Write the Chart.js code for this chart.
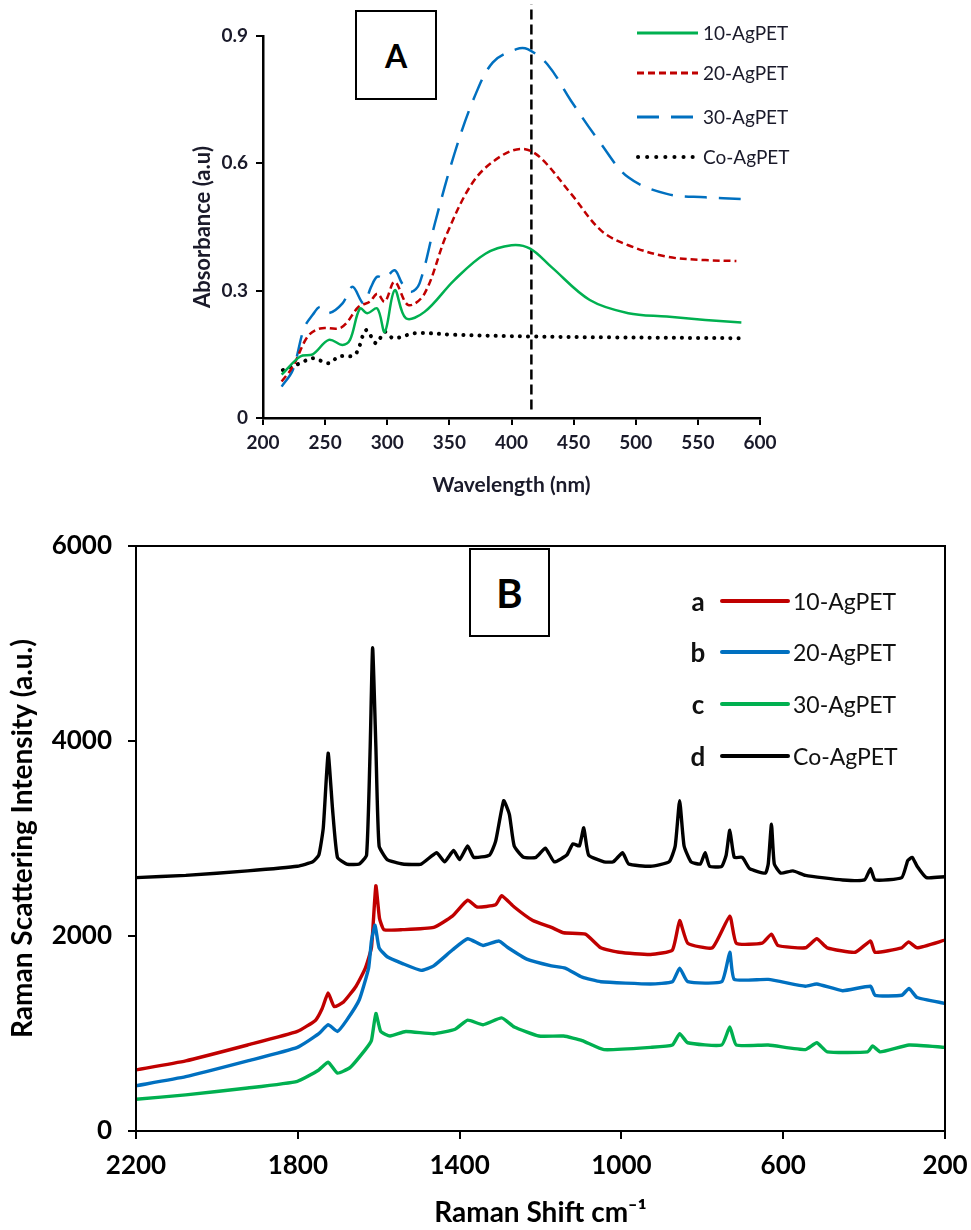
<!DOCTYPE html>
<html>
<head>
<meta charset="utf-8">
<script src="https://cdn.jsdelivr.net/npm/chart.js@4"></script>
<style>
  body { margin: 0; background: #fff; font-family: Lato, "Open Sans", sans-serif; }
  #wrap { position: relative; width: 971px; height: 1230px; }
  canvas { position: absolute; left: 0; }
  #chartA { top: 0; }
  #chartB { top: 510px; }
  .tag { position: absolute; border: 2px solid #000; background: #fff; box-sizing: border-box;
         display: flex; align-items: center; justify-content: center; font-weight: 700; }
  .leg { position: absolute; display: flex; align-items: center; white-space: nowrap; }
  .leg svg { display: block; }
  .legA { left: 634px; font-size: 19px; color: #1a1a2a; }
  .legA span { margin-left: 3px; }
  .legB { left: 684px; font-size: 23px; color: #111; }
  .legB b { width: 28px; text-align: center; font-size: 26px; margin-right: 8px; }
  .legB span { margin-left: 3px; }
</style>
</head>
<body>
<div id="wrap">
  <canvas id="chartA" width="971" height="500"></canvas>
  <canvas id="chartB" width="971" height="720"></canvas>

  <div class="tag" style="left:355px;top:10px;width:82px;height:90px;font-size:32px;">A</div>
  <div class="tag" style="left:469px;top:548px;width:81px;height:89px;font-size:40px;">B</div>

  <div class="leg legA" style="top:21px;"><svg width="66" height="8"><line x1="3" y1="4" x2="64" y2="4" stroke="#00b050" stroke-width="3"/></svg><span>10-AgPET</span></div>
  <div class="leg legA" style="top:61px;"><svg width="66" height="8"><line x1="3" y1="4" x2="64" y2="4" stroke="#c00000" stroke-width="3" stroke-dasharray="7 4"/></svg><span>20-AgPET</span></div>
  <div class="leg legA" style="top:105px;"><svg width="66" height="8"><line x1="3" y1="4" x2="64" y2="4" stroke="#0070c0" stroke-width="3" stroke-dasharray="22 12"/></svg><span>30-AgPET</span></div>
  <div class="leg legA" style="top:145px;"><svg width="66" height="8"><line x1="4" y1="4" x2="64" y2="4" stroke="#000" stroke-width="4" stroke-linecap="round" stroke-dasharray="0.1 9"/></svg><span>Co-AgPET</span></div>

  <div class="leg legB" style="top:585px;"><b>a</b><svg width="70" height="8"><line x1="2" y1="4" x2="68" y2="4" stroke="#c00000" stroke-width="4" stroke-linecap="round"/></svg><span>10-AgPET</span></div>
  <div class="leg legB" style="top:636px;"><b>b</b><svg width="70" height="8"><line x1="2" y1="4" x2="68" y2="4" stroke="#0070c0" stroke-width="4" stroke-linecap="round"/></svg><span>20-AgPET</span></div>
  <div class="leg legB" style="top:688px;"><b>c</b><svg width="70" height="8"><line x1="2" y1="4" x2="68" y2="4" stroke="#00b050" stroke-width="4" stroke-linecap="round"/></svg><span>30-AgPET</span></div>
  <div class="leg legB" style="top:740px;"><b>d</b><svg width="70" height="8"><line x1="2" y1="4" x2="68" y2="4" stroke="#000" stroke-width="4" stroke-linecap="round"/></svg><span>Co-AgPET</span></div>
</div>

<script>
// ---- A: UV-vis absorbance ----
const wl10 = [215, 230, 240, 253, 264, 270, 278, 284, 292, 298, 306, 315, 330, 354, 379, 400, 415, 432, 463, 494, 525, 556, 585];
const abs10 = [0.102, 0.145, 0.15, 0.184, 0.172, 0.184, 0.258, 0.247, 0.258, 0.203, 0.301, 0.235, 0.25, 0.325, 0.387, 0.407, 0.399, 0.356, 0.278, 0.247, 0.239, 0.231, 0.225];

const wl20 = [215, 224, 236, 246, 261, 267, 277, 286, 292, 298, 306, 317, 330, 348, 370, 392, 409, 423, 448, 472, 494, 525, 556, 581];
const abs20 = [0.086, 0.121, 0.192, 0.211, 0.211, 0.223, 0.262, 0.274, 0.293, 0.274, 0.321, 0.266, 0.293, 0.434, 0.56, 0.618, 0.634, 0.614, 0.528, 0.442, 0.407, 0.38, 0.372, 0.37];

const wl30 = [215, 224, 233, 240, 246, 253, 264, 272, 281, 287, 292, 298, 306, 312, 319, 326, 339, 354, 370, 385, 404, 413, 429, 448, 472, 494, 525, 556, 585];
const abs30 = [0.074, 0.113, 0.211, 0.243, 0.262, 0.247, 0.27, 0.309, 0.27, 0.309, 0.333, 0.329, 0.348, 0.317, 0.297, 0.317, 0.466, 0.622, 0.755, 0.838, 0.869, 0.869, 0.833, 0.747, 0.646, 0.567, 0.528, 0.52, 0.516];

const wlCo = [216, 230, 240, 253, 261, 274, 283, 291, 298, 305, 323, 354, 417, 479, 585];
const absCo = [0.113, 0.129, 0.141, 0.129, 0.145, 0.149, 0.207, 0.176, 0.203, 0.188, 0.2, 0.196, 0.192, 0.19, 0.188];

const peakLine = [416, 416];
const peakLineY = [0.02, 0.975];

// ---- B: Raman ----
const shiftCo = [2200, 2077, 1924, 1801, 1763, 1748, 1737, 1725, 1714, 1702, 1679, 1648, 1630, 1621, 1615, 1607, 1599, 1579, 1541, 1495, 1457, 1437, 1415, 1400, 1380, 1365, 1326, 1311, 1291, 1277, 1265, 1242, 1211, 1188, 1166, 1135, 1120, 1104, 1093, 1081, 1043, 1020, 997, 982, 928, 882, 867, 856, 845, 828, 805, 793, 782, 752, 741, 732, 721, 701, 683, 644, 637, 629, 622, 606, 576, 545, 453, 399, 384, 373, 307, 292, 281, 269, 246, 200];
const ramanCo = [2599, 2622, 2668, 2715, 2761, 2830, 3109, 3875, 3295, 2807, 2738, 2738, 2830, 3944, 4956, 3944, 2923, 2784, 2738, 2738, 2854, 2761, 2877, 2784, 2923, 2807, 2830, 2970, 3387, 3248, 2923, 2807, 2807, 2900, 2761, 2830, 2946, 2923, 3109, 2830, 2761, 2761, 2854, 2738, 2715, 2761, 2923, 3387, 2923, 2761, 2738, 2854, 2715, 2715, 2830, 3086, 2807, 2807, 2691, 2645, 2738, 3146, 2738, 2645, 2668, 2622, 2575, 2575, 2691, 2575, 2599, 2775, 2807, 2715, 2599, 2608];

const shift10 = [2200, 2077, 1924, 1801, 1756, 1740, 1725, 1710, 1687, 1656, 1633, 1618, 1607, 1598, 1587, 1541, 1464, 1418, 1380, 1357, 1311, 1296, 1265, 1219, 1173, 1143, 1089, 1051, 1005, 928, 874, 856, 836, 775, 732, 716, 652, 629, 613, 545, 517, 491, 422, 384, 373, 307, 290, 269, 200];
const raman10 = [626, 719, 882, 1021, 1137, 1253, 1415, 1276, 1323, 1485, 1671, 1879, 2515, 2181, 2065, 2065, 2088, 2204, 2367, 2297, 2320, 2413, 2297, 2158, 2088, 2033, 2019, 1879, 1833, 1810, 1856, 2158, 1926, 1879, 2204, 1926, 1926, 2019, 1903, 1879, 1972, 1879, 1833, 1949, 1833, 1879, 1940, 1879, 1958];

const shift20 = [2200, 2077, 1924, 1801, 1748, 1725, 1702, 1679, 1648, 1625, 1618, 1609, 1599, 1579, 1541, 1495, 1464, 1418, 1380, 1342, 1303, 1280, 1234, 1173, 1139, 1097, 1051, 928, 874, 856, 836, 752, 732, 721, 637, 545, 517, 453, 384, 373, 307, 289, 269, 200];
const raman20 = [464, 557, 719, 858, 998, 1090, 1021, 1137, 1346, 1671, 1949, 2111, 1879, 1787, 1717, 1647, 1694, 1856, 1972, 1903, 1949, 1879, 1763, 1694, 1671, 1578, 1531, 1508, 1531, 1671, 1531, 1531, 1833, 1555, 1555, 1485, 1508, 1439, 1485, 1392, 1392, 1462, 1369, 1309];

const shift30 = [2200, 2077, 1924, 1801, 1748, 1725, 1702, 1671, 1633, 1618, 1607, 1595, 1572, 1533, 1464, 1411, 1380, 1342, 1296, 1265, 1204, 1143, 1097, 1043, 928, 874, 856, 836, 752, 732, 716, 637, 545, 517, 491, 391, 379, 360, 289, 200];
const raman30 = [325, 371, 441, 510, 626, 705, 594, 650, 835, 928, 1206, 1021, 974, 1021, 998, 1044, 1137, 1090, 1160, 1067, 974, 974, 928, 835, 858, 882, 998, 905, 882, 1067, 882, 882, 835, 905, 812, 812, 872, 812, 882, 858];

function pts(xs, ys) {
  return xs.map((x, i) => ({ x: x, y: ys[i] }));
}

const fontA = { family: 'Lato, "Open Sans", sans-serif', weight: 'bold' };
const plain = (v) => String(v);

function fixWidth(w) {
  return function (scale) { scale.width = w; };
}
function fixHeight(h) {
  return function (scale) {
    scale.height = h;
    scale.paddingLeft = 0;
    scale.paddingRight = 0;
  };
}

const boxPlugin = {
  id: 'boxPlugin',
  afterDraw(chart) {
    const a = chart.chartArea;
    const ctx = chart.ctx;
    ctx.save();
    ctx.strokeStyle = '#000';
    ctx.lineWidth = 2;
    ctx.strokeRect(a.left, a.top, a.right - a.left, a.bottom - a.top);
    ctx.restore();
  }
};

function chartInit() {
  const chartA = document.getElementById('chartA');
  const chartB = document.getElementById('chartB');

  const chartAOptions = {
    type: 'line',
    data: {
      datasets: [
        {
          label: '10-AgPET',
          data: pts(wl10, abs10),
          borderColor: '#00b050',
          borderWidth: 2.5,
        },
        {
          label: '20-AgPET',
          data: pts(wl20, abs20),
          borderColor: '#c00000',
          borderWidth: 2.5,
          borderDash: [7, 4],
        },
        {
          label: '30-AgPET',
          data: pts(wl30, abs30),
          borderColor: '#0070c0',
          borderWidth: 2.5,
          borderDash: [22, 12],
        },
        {
          label: 'Co-AgPET',
          data: pts(wlCo, absCo),
          borderColor: '#000',
          borderWidth: 4,
          borderDash: [0.1, 8],
          borderCapStyle: 'round',
        },
        {
          label: 'peak',
          data: pts(peakLine, peakLineY),
          borderColor: '#000',
          borderWidth: 2.5,
          borderDash: [10, 5],
          tension: 0,
          clip: false,
        }
      ]
    },
    options: {
      responsive: false,
      animation: false,
      tension: 0.35,
      pointRadius: 0,
      layout: { padding: { left: 190, right: 211, top: 36, bottom: 0 } },
      scales: {
        x: {
          type: 'linear',
          min: 200,
          max: 600,
          afterFit: fixHeight(82),
          ticks: { stepSize: 50, color: '#1a1a2a', font: { ...fontA, size: 19 }, padding: 6, callback: plain },
          grid: { drawOnChartArea: false, color: '#000', lineWidth: 2, tickLength: 7 },
          border: { color: '#000', width: 2.5 },
          title: { display: true, text: 'Wavelength (nm)', color: '#1a1a2a', font: { ...fontA, size: 21 }, padding: { top: 0, bottom: 2 } }
        },
        y: {
          min: 0,
          max: 0.9,
          afterFit: fixWidth(73),
          ticks: { stepSize: 0.3, color: '#1a1a2a', font: { ...fontA, size: 19 }, padding: 8, callback: plain },
          grid: { drawOnChartArea: false, color: '#000', lineWidth: 2, tickLength: 7 },
          border: { color: '#000', width: 2.5 },
          title: { display: true, text: 'Absorbance (a.u)', color: '#1a1a2a', font: { ...fontA, size: 22 }, padding: { top: 0, bottom: 0 } }
        }
      },
      plugins: {
        legend: { display: false },
        tooltip: { enabled: false }
      }
    }
  };

  const chartBOptions = {
    type: 'line',
    data: {
      datasets: [
        {
          label: '30-AgPET',
          data: pts(shift30, raman30),
          borderColor: '#00b050',
        },
        {
          label: '20-AgPET',
          data: pts(shift20, raman20),
          borderColor: '#0070c0',
        },
        {
          label: '10-AgPET',
          data: pts(shift10, raman10),
          borderColor: '#c00000',
        },
        {
          label: 'Co-AgPET',
          data: pts(shiftCo, ramanCo),
          borderColor: '#000',
        }
      ]
    },
    options: {
      responsive: false,
      animation: false,
      borderWidth: 3.4,
      tension: 0.15,
      pointRadius: 0,
      layout: { padding: { left: 6, right: 26, top: 36, bottom: 0 } },
      scales: {
        x: {
          type: 'linear',
          reverse: true,
          min: 200,
          max: 2200,
          afterFit: fixHeight(99),
          ticks: { stepSize: 400, color: '#000', font: { ...fontA, size: 26 }, padding: 11, callback: plain },
          grid: { drawOnChartArea: false, color: '#000', lineWidth: 2, tickLength: 8 },
          border: { color: '#000', width: 2 },
          title: { display: true, text: 'Raman Shift cm\u207B\u00B9', color: '#000', font: { ...fontA, size: 28 }, padding: { top: 0, bottom: 0 } }
        },
        y: {
          min: 0,
          max: 6000,
          afterFit: fixWidth(130),
          ticks: { stepSize: 2000, color: '#000', font: { ...fontA, size: 26 }, padding: 16, callback: plain },
          grid: { drawOnChartArea: false, color: '#000', lineWidth: 2, tickLength: 8 },
          border: { color: '#000', width: 2 },
          title: { display: true, text: 'Raman Scattering Intensity (a.u.)', color: '#000', font: { ...fontA, size: 28 }, padding: { top: 0, bottom: 0 } }
        }
      },
      plugins: {
        legend: { display: false },
        tooltip: { enabled: false }
      }
    },
    plugins: [boxPlugin]
  };

  if (chartA) {
    new Chart(chartA, chartAOptions);
  }

  if (chartB) {
    new Chart(chartB, chartBOptions);
  }
}

chartInit();
</script>
</body>
</html>
